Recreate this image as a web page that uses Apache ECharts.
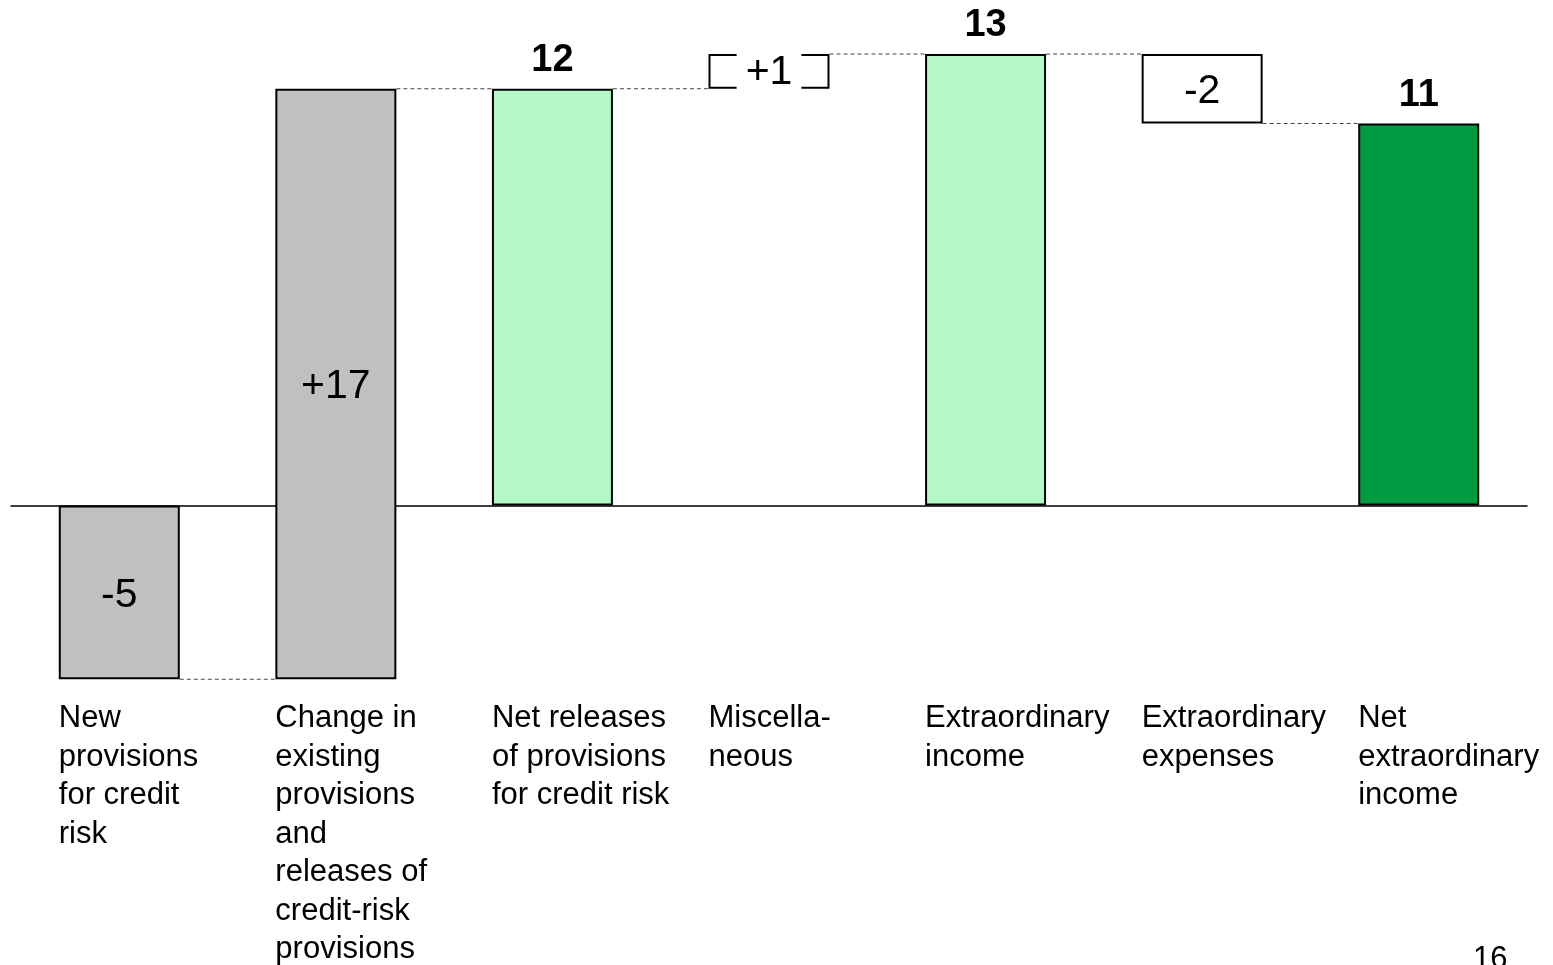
<!DOCTYPE html>
<html>
<head>
<meta charset="utf-8">
<title>Net extraordinary income</title>
<script src="https://cdn.jsdelivr.net/npm/echarts@6/dist/echarts.min.js"></script>
<style>
  html, body { margin: 0; padding: 0; background: #fff; }
  #chart { width: 1553px; height: 965px; }
</style>
</head>
<body>
<div id="chart"></div>
<script>
// Waterfall steps: category names, step kind and value of each step
const categories = [
  'New\nprovisions\nfor credit\nrisk',
  'Change in\nexisting\nprovisions\nand\nreleases of\ncredit-risk\nprovisions',
  'Net releases\nof provisions\nfor credit risk',
  'Miscella-\nneous',
  'Extraordinary\nincome',
  'Extraordinary\nexpenses',
  'Net\nextraordinary\nincome'
];
const kinds = ['delta', 'delta', 'total', 'delta', 'total', 'delta', 'total'];
const values = [-5, 17, 12, 1, 13, -2, 11];
const pageNumber = '16';

// Colours per step
const fills = ['#c0c0c0', '#c0c0c0', '#b3f8c6', '#ffffff', '#b3f8c6', '#ffffff', '#009b40'];

const FONT = '"Liberation Sans", Arial, sans-serif';
const BAR_W = 121;

// Build invisible bases and visible heights for the stacked waterfall
const bases = [];
const heights = [];
const levels = []; // running level after each step
let running = 0;
values.forEach((v, i) => {
  if (kinds[i] === 'total') {
    bases.push(0);
    heights.push(v);
    running = v;
  } else {
    const end = running + v;
    bases.push(Math.min(running, end));
    heights.push(Math.abs(v));
    running = end;
  }
  levels.push(running);
});

const connectorData = levels.slice(0, -1).map((lv, i) => [i, lv]);

function labelFor(i) {
  const v = values[i];
  if (kinds[i] === 'total') {
    return { show: true, position: 'top', distance: 9, formatter: String(v),
             fontSize: 38, fontWeight: 'bold', color: '#000', fontFamily: FONT };
  }
  const txt = (v > 0 ? '+' : '') + v;
  const lab = { show: true, position: 'inside', formatter: txt, offset: [0, 3],
                fontSize: 41, color: '#000', fontFamily: FONT };
  if (i === 3) {
    lab.offset = [0, 1];
    lab.backgroundColor = '#fff';
    lab.padding = [2, 9, 0, 9];
  }
  return lab;
}

const chart = echarts.init(document.getElementById('chart'), null, { renderer: 'canvas' });

chart.setOption({
  animation: false,
  backgroundColor: '#fff',
  grid: { left: 11, right: 26, top: 54, bottom: 285, containLabel: false },
  xAxis: [
    {
      type: 'category',
      data: categories,
      position: 'top',
      axisLine: { show: true, onZero: true, lineStyle: { color: '#000', width: 1.5 } },
      axisTick: { show: false },
      axisLabel: { show: false }
    },
    {
      type: 'category',
      data: categories,
      position: 'bottom',
      axisLine: { show: false, onZero: false },
      axisTick: { show: false },
      axisLabel: {
        interval: 0,
        margin: 20,
        align: 'center',
        width: BAR_W,
        overflow: 'none',
        formatter: (v) => v.split('\n').map(s => '{t|' + s + '}').join('\n'),
        rich: {
          t: { align: 'left', fontSize: 31, lineHeight: 38.5, color: '#000', fontFamily: FONT }
        }
      }
    }
  ],
  yAxis: {
    type: 'value',
    min: -5,
    max: 13,
    show: false,
    splitLine: { show: false }
  },
  series: [
    {
      name: 'base',
      type: 'bar',
      stack: 'wf',
      stackStrategy: 'all',
      xAxisIndex: 0,
      barWidth: BAR_W,
      z: 2,
      silent: true,
      itemStyle: { color: 'rgba(0,0,0,0)', borderWidth: 0 },
      data: bases
    },
    {
      name: 'step',
      type: 'bar',
      stack: 'wf',
      stackStrategy: 'all',
      xAxisIndex: 0,
      barWidth: BAR_W,
      z: 3,
      data: heights.map((h, i) => ({
        value: h,
        itemStyle: { color: fills[i], borderColor: '#000', borderWidth: 2 },
        label: labelFor(i)
      }))
    },
    {
      name: 'connector',
      type: 'custom',
      xAxisIndex: 0,
      z: 1,
      silent: true,
      data: connectorData,
      renderItem: function (params, api) {
        const p = api.coord([api.value(0), api.value(1)]);
        const band = api.size([1, 0])[0];
        return {
          type: 'line',
          shape: { x1: p[0] + BAR_W / 2, y1: p[1], x2: p[0] + band - BAR_W / 2, y2: p[1] },
          style: { stroke: '#444', lineWidth: 1, lineDash: [4, 3] }
        };
      }
    }
  ],
  graphic: [
    {
      type: 'text',
      left: 1473,
      top: 944,
      style: { text: pageNumber, fontSize: 31, fill: '#000', fontFamily: FONT }
    }
  ]
});
</script>
</body>
</html>
